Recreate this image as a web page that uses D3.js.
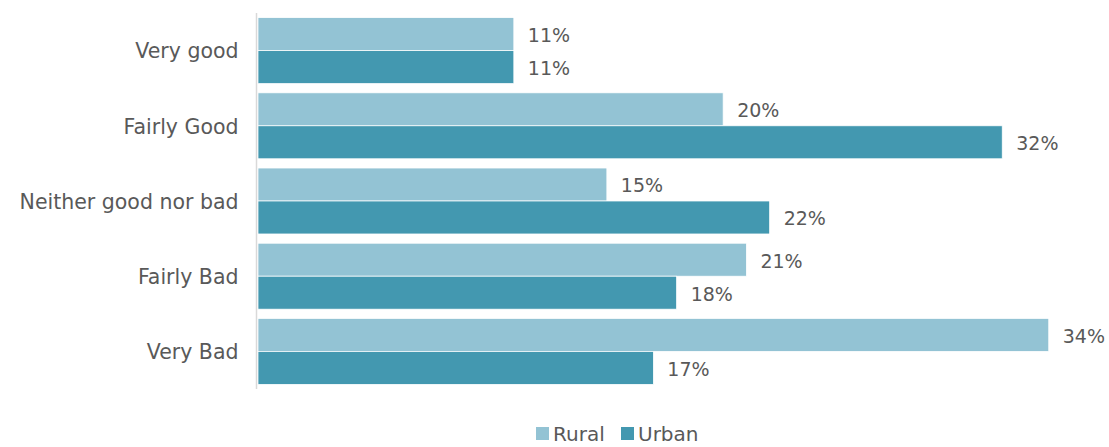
<!DOCTYPE html>
<html>
<head>
<meta charset="utf-8">
<script src="https://cdn.jsdelivr.net/npm/d3@7"></script>
<style>
  html, body { margin: 0; padding: 0; background: #fff; }
  svg { display: block; font-family: "DejaVu Sans", sans-serif; }
</style>
</head>
<body>
<svg id="chart" width="1109" height="447"></svg>
<script>
// Ratings, top to bottom
const categories = ["Very good", "Fairly Good", "Neither good nor bad", "Fairly Bad", "Very Bad"];
const seriesNames = ["Rural", "Urban"];
const rural = [0.11, 0.20, 0.15, 0.21, 0.34];
const urban = [0.11, 0.32, 0.22, 0.18, 0.17];

const colors = { Rural: "#93C3D4", Urban: "#4398B0" };
const textColor = "#595959";

const rows = categories.map((c, i) => ({ category: c, Rural: rural[i], Urban: urban[i] }));

const svg = d3.select("#chart");
const plot = { left: 258, right: 1072, top: 13, bottom: 389 };

const x = d3.scaleLinear().domain([0, 0.35]).range([plot.left, plot.right]);
const y = d3.scaleBand().domain(categories).range([plot.top, plot.bottom])
  .paddingInner(0.123).paddingOuter(0.0615);
const ySub = d3.scaleBand().domain(seriesNames).range([0, y.bandwidth()]);

const groups = svg.append("g").selectAll("g").data(rows).join("g")
  .attr("transform", d => `translate(0,${y(d.category)})`);

groups.selectAll("rect").data(d => seriesNames.map(k => ({ key: k, value: d[k] }))).join("rect")
  .attr("x", x(0))
  .attr("y", d => ySub(d.key))
  .attr("width", d => x(d.value) - x(0))
  .attr("height", ySub.bandwidth())
  .attr("fill", d => colors[d.key])
  .attr("stroke", "#ffffff")
  .attr("stroke-width", 0.75);

groups.selectAll("text.val").data(d => seriesNames.map(k => ({ key: k, value: d[k] }))).join("text")
  .attr("class", "val")
  .attr("x", d => x(d.value) + 14)
  .attr("y", d => ySub(d.key) + ySub.bandwidth() / 2)
  .attr("dy", "0.42em")
  .attr("font-size", 19)
  .attr("fill", textColor)
  .text(d => d3.format(".0%")(d.value));

// Category axis
const yAxis = svg.append("g")
  .attr("transform", `translate(${plot.left - 1.5},0)`)
  .call(d3.axisLeft(y).tickSize(0).tickPadding(18));
yAxis.select(".domain").attr("stroke", "#d9d9d9").attr("stroke-width", 1.5)
  .attr("d", `M0,${plot.top}V${plot.bottom}`);
yAxis.selectAll(".tick text")
  .attr("font-family", "DejaVu Sans, sans-serif")
  .attr("font-size", 20.5)
  .attr("fill", textColor)
  .attr("dy", "0.38em");

// Legend
const legendItems = [
  { key: "Rural", x: 536 },
  { key: "Urban", x: 621 }
];
const legend = svg.append("g").selectAll("g").data(legendItems).join("g")
  .attr("transform", d => `translate(${d.x},427)`);
legend.append("rect").attr("width", 13).attr("height", 13).attr("fill", d => colors[d.key]);
legend.append("text").attr("x", 17).attr("y", 14).attr("font-size", 20)
  .attr("fill", textColor).text(d => d.key);
</script>
</body>
</html>
